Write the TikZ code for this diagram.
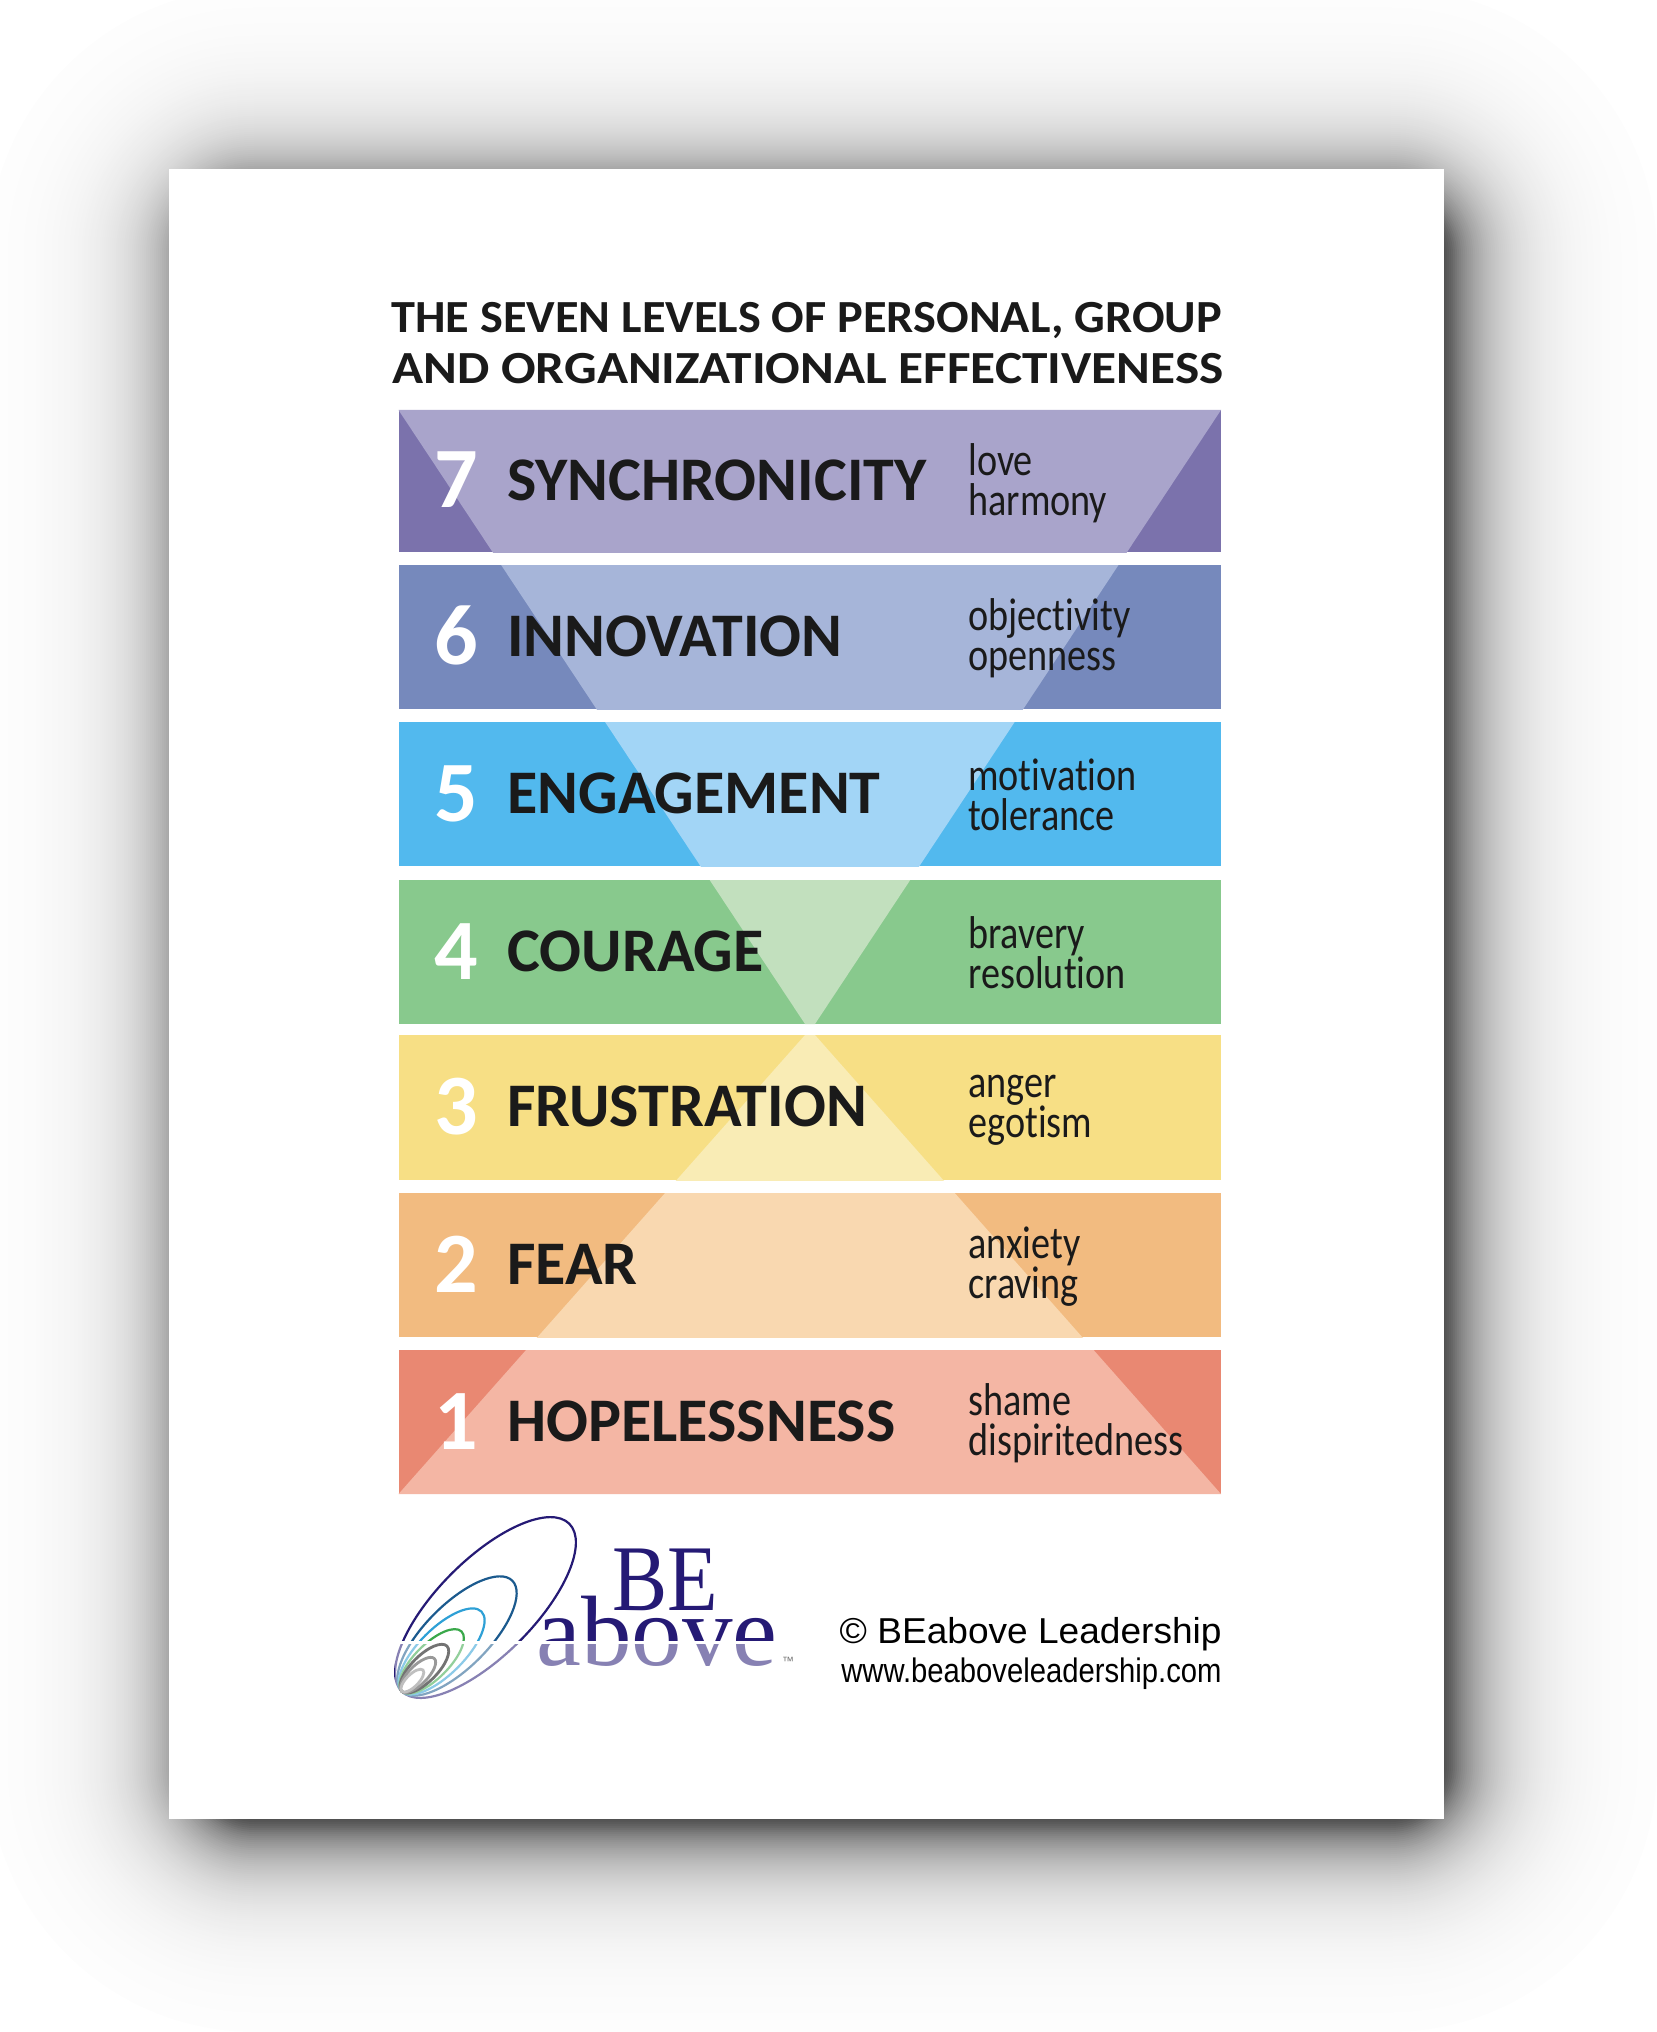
\documentclass[tikz,border=0pt]{standalone}
\usepackage{fontspec}
\setmainfont{Carlito}[Ligatures=CommonOff]
\newfontfamily\arialfont{Liberation Sans}
\newfontfamily\timesfont{Liberation Serif}

\definecolor{dark7}{HTML}{7B72AC}
\definecolor{light7}{HTML}{A9A4CB}
\definecolor{dark6}{HTML}{7689BC}
\definecolor{light6}{HTML}{A6B5D9}
\definecolor{dark5}{HTML}{52B9EE}
\definecolor{light5}{HTML}{A2D5F6}
\definecolor{dark4}{HTML}{88C98D}
\definecolor{light4}{HTML}{C2E0BE}
\definecolor{dark3}{HTML}{F7DF85}
\definecolor{light3}{HTML}{F9ECB5}
\definecolor{dark2}{HTML}{F2BB80}
\definecolor{light2}{HTML}{F9D8B0}
\definecolor{dark1}{HTML}{E98872}
\definecolor{light1}{HTML}{F4B6A4}
\definecolor{inktext}{HTML}{1A1A1A}
\definecolor{logoblue}{HTML}{251A75}
\definecolor{ring2}{HTML}{1B5A8E}
\definecolor{ring3}{HTML}{2EA0D6}
\definecolor{ring4}{HTML}{3AA84A}
\definecolor{ring5}{HTML}{737373}
\definecolor{ring6}{HTML}{999999}
\definecolor{ring7}{HTML}{BFBFBF}

\begin{document}
\begin{tikzpicture}[x=.5pt, y=-.5pt,
	TitleStyle/.style = {anchor=base west, inner sep=0pt, text=inktext, transform shape, font=\fontsize{23}{25}\selectfont\bfseries},
	NumStyle/.style = {anchor=base, inner sep=0pt, text=white, font=\fontsize{43}{45}\selectfont\bfseries},
	WordStyle/.style = {anchor=base west, inner sep=0pt, text=inktext, font=\fontsize{31}{33}\selectfont\bfseries},
	TraitStyle/.style = {anchor=base west, inner sep=0pt, text=inktext, transform shape, xscale=.83, font=\fontsize{23}{25}\selectfont},
	RingStyle/.style = {line width=1.1pt, shift={(401.7,1691.3)}, rotate=45},
	CreditStyle/.style = {anchor=base east, inner sep=0pt, text=black, transform shape}]
	\useasboundingbox (0,0) rectangle (1657,2032);

	% shadow behind the sheet
	\begin{scope}
		\clip (0,0) rectangle (1657,2032);
		\foreach \d in {197,195,...,-19} {
			\ifnum\d<0
				\pgfmathsetmacro\k{100-50*exp(\d/33)}
			\else
				\pgfmathsetmacro\k{50*exp(-\d/45)}
			\fi
			\pgfmathsetmacro\r{(\d+70)*.5}
			\fill[black!\k!white, rounded corners=\r pt] ({185-\d},{185-\d}) rectangle ({1460+\d},{1835+\d});
		}
	\end{scope}
	\fill[white] (169,169) rectangle (1444,1819);

	\node[TitleStyle, xscale=1.05] (title1) at (391,333) {THE SEVEN LEVELS OF PERSONAL, GROUP};
	\node[TitleStyle, xscale=1.115] (title2) at (392,384) {AND ORGANIZATIONAL EFFECTIVENESS};

	\foreach \nr/\ytop/\ybot/\word/\traitA/\traitB/\ytrait in {
		7/410/552/SYNCHRONICITY/love/harmony/475.5,
		6/565/709/INNOVATION/objectivity/openness/630.5,
		5/722/866/ENGAGEMENT/motivation/tolerance/790,
		4/880/1024/COURAGE/bravery/resolution/948,
		3/1035/1180/FRUSTRATION/anger/egotism/1097,
		2/1193/1337/FEAR/anxiety/craving/1258.5,
		1/1350/1494/HOPELESSNESS/shame/dispiritedness/1415.5} {
		\begin{scope}
			\clip (398.5,\ytop) rectangle (1221,\ybot);
			\fill[dark\nr] (398.5,\ytop) rectangle (1221,\ybot);
			\ifnum\nr>3
				\fill[light\nr] (398.5,410) -- (1221,410) -- (815,1024) -- (805,1024) -- cycle;
			\else
				\fill[light\nr] (805,1035) -- (815,1035) -- (1221,1494) -- (398.5,1494) -- cycle;
			\fi
		\end{scope}
		\node[NumStyle] (num\nr) at (456,{(\ytop+\ybot)/2+27}) {\nr};
		\node[WordStyle] (word\nr) at (507,{(\ytop+\ybot)/2+19}) {\word};
		\node[TraitStyle] (traitA\nr) at (968,\ytrait) {\traitA};
		\node[TraitStyle] (traitB\nr) at (968,\ytrait+40) {\traitB};
	}

	% logo rings, all from the one tip
	\foreach \s/\c in {1/logoblue, .66/ring2, .476/ring3, .357/ring4} {
		\draw[RingStyle, color=\c] ({118.5*\s},0) ellipse [x radius={118.5*\s}, y radius={47.9*\s}];
	}
	\node[anchor=base west, inner sep=0pt, text=logoblue, transform shape, xscale=.88, font=\timesfont\fontsize{47}{47}\selectfont] (logoBE) at (612,1610) {BE};
	\node[anchor=base west, inner sep=0pt, text=logoblue, transform shape, xscale=1.01, font=\timesfont\fontsize{50}{50}\selectfont] (logoabove) at (536,1665) {above};
	% lower half of the logo is paler, split by a white stripe
	\fill[white, opacity=.45] (395,1642) rectangle (780,1705);
	\fill[white] (395,1641) rectangle (780,1643.5);
	\foreach \s/\c in {.27/ring5, .195/ring6, .127/ring7} {
		\draw[RingStyle, color=\c, line width=1.4pt] ({118.5*\s},0) ellipse [x radius={118.5*\s}, y radius={47.9*\s}];
	}
	\node[anchor=base, inner sep=0pt, text=black!55, font=\arialfont\fontsize{6}{6}\selectfont] (logotm) at (788,1665) {™};

	\node[CreditStyle, xscale=1.03, font=\arialfont\fontsize{18}{20}\selectfont] (credit1) at (1222,1643) {© BEabove Leadership};
	\node[CreditStyle, xscale=.86, font=\arialfont\fontsize{17}{19}\selectfont] (credit2) at (1222,1682) {www.beaboveleadership.com};
\end{tikzpicture}
\end{document}
